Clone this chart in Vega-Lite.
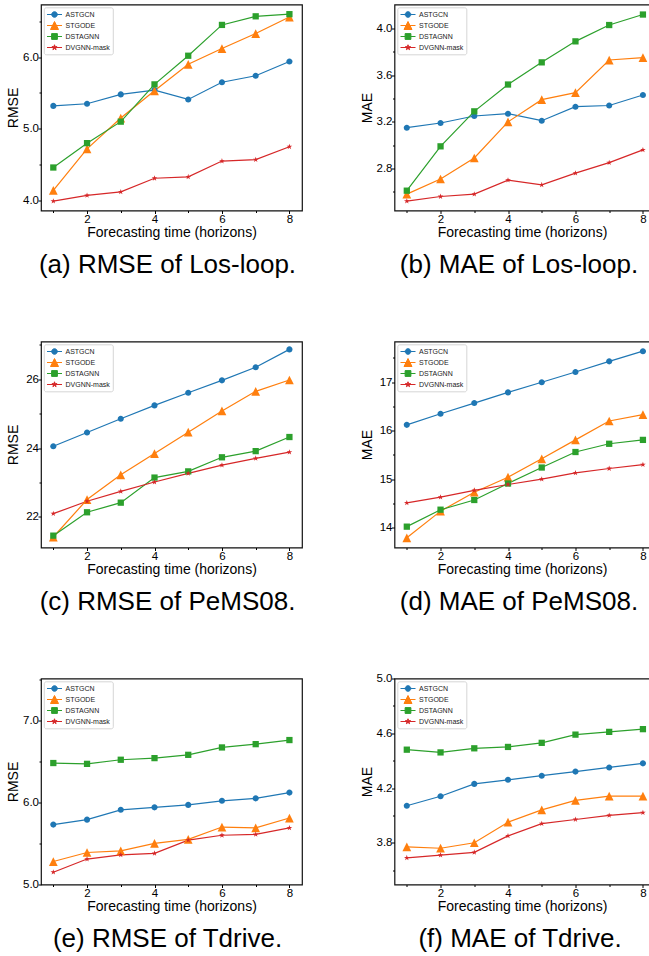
{
  "$schema": "https://vega.github.io/schema/vega-lite/v6.json",
  "padding": {"left": 5, "top": 3.5, "right": 0, "bottom": 0},
  "background": "white",
  "bounds": "flush",
  "columns": 2,
  "spacing": {"row": 131, "column": 92.5},
  "resolve": {"scale": {"color": "independent", "shape": "independent"}, "legend": {"color": "independent", "shape": "independent"}},
  "config": {
    "font": "Liberation Sans",
    "view": {"stroke": "#111111", "strokeWidth": 1.2},
    "axis": {"grid": false, "domain": false, "labelFont": "Liberation Sans", "labelFontSize": 11.5, "labelColor": "black", "titleFont": "Liberation Sans", "titleFontSize": 14, "titleFontWeight": "normal", "titleColor": "black", "tickColor": "black", "tickWidth": 1, "labelOverlap": false, "labelFlush": false},
    "axisX": {"labelPadding": 0, "titlePadding": 0, "minExtent": 15, "maxExtent": 15},
    "axisY": {"labelPadding": -0.5, "titlePadding": 0.5, "minExtent": 20, "maxExtent": 20, "titleFontSize": 14},
    "range": {
      "category": ["#1f77b4", "#ff7f0e", "#2ca02c", "#d62728"],
      "symbol": ["M0.7,0A0.7,0.7 0 1 1 -0.7,0A0.7,0.7 0 1 1 0.7,0Z", "M0,-1L1,1L-1,1Z", "M-0.72,-0.72H0.72V0.72H-0.72Z", "M0,-0.68L0.152,-0.21L0.647,-0.21L0.247,0.081L0.4,0.55L0,0.26L-0.4,0.55L-0.247,0.081L-0.647,-0.21L-0.152,-0.21Z"]
    },
    "point": {"filled": true, "opacity": 1, "size": 76},
    "line": {"strokeWidth": 1.2},
    "legend": {"strokeWidth": 0.8}
  },
  "datasets": {
    "d": [
      {"p": "a", "m": "ASTGCN", "h": 1, "v": 5.32}, {"p": "a", "m": "ASTGCN", "h": 2, "v": 5.35}, {"p": "a", "m": "ASTGCN", "h": 3, "v": 5.48}, {"p": "a", "m": "ASTGCN", "h": 4, "v": 5.54}, {"p": "a", "m": "ASTGCN", "h": 5, "v": 5.41}, {"p": "a", "m": "ASTGCN", "h": 6, "v": 5.65}, {"p": "a", "m": "ASTGCN", "h": 7, "v": 5.74}, {"p": "a", "m": "ASTGCN", "h": 8, "v": 5.94},
      {"p": "a", "m": "STGODE", "h": 1, "v": 4.14}, {"p": "a", "m": "STGODE", "h": 2, "v": 4.72}, {"p": "a", "m": "STGODE", "h": 3, "v": 5.15}, {"p": "a", "m": "STGODE", "h": 4, "v": 5.53}, {"p": "a", "m": "STGODE", "h": 5, "v": 5.90}, {"p": "a", "m": "STGODE", "h": 6, "v": 6.12}, {"p": "a", "m": "STGODE", "h": 7, "v": 6.33}, {"p": "a", "m": "STGODE", "h": 8, "v": 6.56},
      {"p": "a", "m": "DSTAGNN", "h": 1, "v": 4.46}, {"p": "a", "m": "DSTAGNN", "h": 2, "v": 4.80}, {"p": "a", "m": "DSTAGNN", "h": 3, "v": 5.10}, {"p": "a", "m": "DSTAGNN", "h": 4, "v": 5.62}, {"p": "a", "m": "DSTAGNN", "h": 5, "v": 6.02}, {"p": "a", "m": "DSTAGNN", "h": 6, "v": 6.45}, {"p": "a", "m": "DSTAGNN", "h": 7, "v": 6.57}, {"p": "a", "m": "DSTAGNN", "h": 8, "v": 6.60},
      {"p": "a", "m": "DVGNN-mask", "h": 1, "v": 3.99}, {"p": "a", "m": "DVGNN-mask", "h": 2, "v": 4.07}, {"p": "a", "m": "DVGNN-mask", "h": 3, "v": 4.12}, {"p": "a", "m": "DVGNN-mask", "h": 4, "v": 4.31}, {"p": "a", "m": "DVGNN-mask", "h": 5, "v": 4.33}, {"p": "a", "m": "DVGNN-mask", "h": 6, "v": 4.55}, {"p": "a", "m": "DVGNN-mask", "h": 7, "v": 4.57}, {"p": "a", "m": "DVGNN-mask", "h": 8, "v": 4.75},

      {"p": "b", "m": "ASTGCN", "h": 1, "v": 3.15}, {"p": "b", "m": "ASTGCN", "h": 2, "v": 3.19}, {"p": "b", "m": "ASTGCN", "h": 3, "v": 3.25}, {"p": "b", "m": "ASTGCN", "h": 4, "v": 3.27}, {"p": "b", "m": "ASTGCN", "h": 5, "v": 3.21}, {"p": "b", "m": "ASTGCN", "h": 6, "v": 3.33}, {"p": "b", "m": "ASTGCN", "h": 7, "v": 3.34}, {"p": "b", "m": "ASTGCN", "h": 8, "v": 3.43},
      {"p": "b", "m": "STGODE", "h": 1, "v": 2.58}, {"p": "b", "m": "STGODE", "h": 2, "v": 2.71}, {"p": "b", "m": "STGODE", "h": 3, "v": 2.89}, {"p": "b", "m": "STGODE", "h": 4, "v": 3.20}, {"p": "b", "m": "STGODE", "h": 5, "v": 3.39}, {"p": "b", "m": "STGODE", "h": 6, "v": 3.45}, {"p": "b", "m": "STGODE", "h": 7, "v": 3.73}, {"p": "b", "m": "STGODE", "h": 8, "v": 3.75},
      {"p": "b", "m": "DSTAGNN", "h": 1, "v": 2.61}, {"p": "b", "m": "DSTAGNN", "h": 2, "v": 2.99}, {"p": "b", "m": "DSTAGNN", "h": 3, "v": 3.29}, {"p": "b", "m": "DSTAGNN", "h": 4, "v": 3.52}, {"p": "b", "m": "DSTAGNN", "h": 5, "v": 3.71}, {"p": "b", "m": "DSTAGNN", "h": 6, "v": 3.89}, {"p": "b", "m": "DSTAGNN", "h": 7, "v": 4.03}, {"p": "b", "m": "DSTAGNN", "h": 8, "v": 4.12},
      {"p": "b", "m": "DVGNN-mask", "h": 1, "v": 2.52}, {"p": "b", "m": "DVGNN-mask", "h": 2, "v": 2.56}, {"p": "b", "m": "DVGNN-mask", "h": 3, "v": 2.58}, {"p": "b", "m": "DVGNN-mask", "h": 4, "v": 2.70}, {"p": "b", "m": "DVGNN-mask", "h": 5, "v": 2.66}, {"p": "b", "m": "DVGNN-mask", "h": 6, "v": 2.76}, {"p": "b", "m": "DVGNN-mask", "h": 7, "v": 2.85}, {"p": "b", "m": "DVGNN-mask", "h": 8, "v": 2.96},

      {"p": "c", "m": "ASTGCN", "h": 1, "v": 24.05}, {"p": "c", "m": "ASTGCN", "h": 2, "v": 24.45}, {"p": "c", "m": "ASTGCN", "h": 3, "v": 24.85}, {"p": "c", "m": "ASTGCN", "h": 4, "v": 25.24}, {"p": "c", "m": "ASTGCN", "h": 5, "v": 25.61}, {"p": "c", "m": "ASTGCN", "h": 6, "v": 25.97}, {"p": "c", "m": "ASTGCN", "h": 7, "v": 26.35}, {"p": "c", "m": "ASTGCN", "h": 8, "v": 26.87},
      {"p": "c", "m": "STGODE", "h": 1, "v": 21.41}, {"p": "c", "m": "STGODE", "h": 2, "v": 22.50}, {"p": "c", "m": "STGODE", "h": 3, "v": 23.22}, {"p": "c", "m": "STGODE", "h": 4, "v": 23.84}, {"p": "c", "m": "STGODE", "h": 5, "v": 24.46}, {"p": "c", "m": "STGODE", "h": 6, "v": 25.08}, {"p": "c", "m": "STGODE", "h": 7, "v": 25.65}, {"p": "c", "m": "STGODE", "h": 8, "v": 25.98},
      {"p": "c", "m": "DSTAGNN", "h": 1, "v": 21.45}, {"p": "c", "m": "DSTAGNN", "h": 2, "v": 22.13}, {"p": "c", "m": "DSTAGNN", "h": 3, "v": 22.41}, {"p": "c", "m": "DSTAGNN", "h": 4, "v": 23.14}, {"p": "c", "m": "DSTAGNN", "h": 5, "v": 23.32}, {"p": "c", "m": "DSTAGNN", "h": 6, "v": 23.73}, {"p": "c", "m": "DSTAGNN", "h": 7, "v": 23.91}, {"p": "c", "m": "DSTAGNN", "h": 8, "v": 24.32},
      {"p": "c", "m": "DVGNN-mask", "h": 1, "v": 22.09}, {"p": "c", "m": "DVGNN-mask", "h": 2, "v": 22.45}, {"p": "c", "m": "DVGNN-mask", "h": 3, "v": 22.74}, {"p": "c", "m": "DVGNN-mask", "h": 4, "v": 23.01}, {"p": "c", "m": "DVGNN-mask", "h": 5, "v": 23.26}, {"p": "c", "m": "DVGNN-mask", "h": 6, "v": 23.50}, {"p": "c", "m": "DVGNN-mask", "h": 7, "v": 23.70}, {"p": "c", "m": "DVGNN-mask", "h": 8, "v": 23.88},

      {"p": "d", "m": "ASTGCN", "h": 1, "v": 16.12}, {"p": "d", "m": "ASTGCN", "h": 2, "v": 16.35}, {"p": "d", "m": "ASTGCN", "h": 3, "v": 16.57}, {"p": "d", "m": "ASTGCN", "h": 4, "v": 16.79}, {"p": "d", "m": "ASTGCN", "h": 5, "v": 17.00}, {"p": "d", "m": "ASTGCN", "h": 6, "v": 17.21}, {"p": "d", "m": "ASTGCN", "h": 7, "v": 17.43}, {"p": "d", "m": "ASTGCN", "h": 8, "v": 17.64},
      {"p": "d", "m": "STGODE", "h": 1, "v": 13.79}, {"p": "d", "m": "STGODE", "h": 2, "v": 14.34}, {"p": "d", "m": "STGODE", "h": 3, "v": 14.73}, {"p": "d", "m": "STGODE", "h": 4, "v": 15.04}, {"p": "d", "m": "STGODE", "h": 5, "v": 15.42}, {"p": "d", "m": "STGODE", "h": 6, "v": 15.81}, {"p": "d", "m": "STGODE", "h": 7, "v": 16.20}, {"p": "d", "m": "STGODE", "h": 8, "v": 16.33},
      {"p": "d", "m": "DSTAGNN", "h": 1, "v": 14.02}, {"p": "d", "m": "DSTAGNN", "h": 2, "v": 14.37}, {"p": "d", "m": "DSTAGNN", "h": 3, "v": 14.57}, {"p": "d", "m": "DSTAGNN", "h": 4, "v": 14.91}, {"p": "d", "m": "DSTAGNN", "h": 5, "v": 15.24}, {"p": "d", "m": "DSTAGNN", "h": 6, "v": 15.56}, {"p": "d", "m": "DSTAGNN", "h": 7, "v": 15.73}, {"p": "d", "m": "DSTAGNN", "h": 8, "v": 15.81},
      {"p": "d", "m": "DVGNN-mask", "h": 1, "v": 14.51}, {"p": "d", "m": "DVGNN-mask", "h": 2, "v": 14.63}, {"p": "d", "m": "DVGNN-mask", "h": 3, "v": 14.77}, {"p": "d", "m": "DVGNN-mask", "h": 4, "v": 14.89}, {"p": "d", "m": "DVGNN-mask", "h": 5, "v": 15.00}, {"p": "d", "m": "DVGNN-mask", "h": 6, "v": 15.13}, {"p": "d", "m": "DVGNN-mask", "h": 7, "v": 15.22}, {"p": "d", "m": "DVGNN-mask", "h": 8, "v": 15.30},

      {"p": "e", "m": "ASTGCN", "h": 1, "v": 5.73}, {"p": "e", "m": "ASTGCN", "h": 2, "v": 5.79}, {"p": "e", "m": "ASTGCN", "h": 3, "v": 5.91}, {"p": "e", "m": "ASTGCN", "h": 4, "v": 5.94}, {"p": "e", "m": "ASTGCN", "h": 5, "v": 5.97}, {"p": "e", "m": "ASTGCN", "h": 6, "v": 6.02}, {"p": "e", "m": "ASTGCN", "h": 7, "v": 6.05}, {"p": "e", "m": "ASTGCN", "h": 8, "v": 6.12},
      {"p": "e", "m": "STGODE", "h": 1, "v": 5.28}, {"p": "e", "m": "STGODE", "h": 2, "v": 5.39}, {"p": "e", "m": "STGODE", "h": 3, "v": 5.41}, {"p": "e", "m": "STGODE", "h": 4, "v": 5.50}, {"p": "e", "m": "STGODE", "h": 5, "v": 5.55}, {"p": "e", "m": "STGODE", "h": 6, "v": 5.70}, {"p": "e", "m": "STGODE", "h": 7, "v": 5.69}, {"p": "e", "m": "STGODE", "h": 8, "v": 5.81},
      {"p": "e", "m": "DSTAGNN", "h": 1, "v": 6.48}, {"p": "e", "m": "DSTAGNN", "h": 2, "v": 6.47}, {"p": "e", "m": "DSTAGNN", "h": 3, "v": 6.52}, {"p": "e", "m": "DSTAGNN", "h": 4, "v": 6.54}, {"p": "e", "m": "DSTAGNN", "h": 5, "v": 6.58}, {"p": "e", "m": "DSTAGNN", "h": 6, "v": 6.67}, {"p": "e", "m": "DSTAGNN", "h": 7, "v": 6.71}, {"p": "e", "m": "DSTAGNN", "h": 8, "v": 6.76},
      {"p": "e", "m": "DVGNN-mask", "h": 1, "v": 5.15}, {"p": "e", "m": "DVGNN-mask", "h": 2, "v": 5.31}, {"p": "e", "m": "DVGNN-mask", "h": 3, "v": 5.36}, {"p": "e", "m": "DVGNN-mask", "h": 4, "v": 5.38}, {"p": "e", "m": "DVGNN-mask", "h": 5, "v": 5.54}, {"p": "e", "m": "DVGNN-mask", "h": 6, "v": 5.60}, {"p": "e", "m": "DVGNN-mask", "h": 7, "v": 5.61}, {"p": "e", "m": "DVGNN-mask", "h": 8, "v": 5.69},

      {"p": "f", "m": "ASTGCN", "h": 1, "v": 4.07}, {"p": "f", "m": "ASTGCN", "h": 2, "v": 4.14}, {"p": "f", "m": "ASTGCN", "h": 3, "v": 4.23}, {"p": "f", "m": "ASTGCN", "h": 4, "v": 4.26}, {"p": "f", "m": "ASTGCN", "h": 5, "v": 4.29}, {"p": "f", "m": "ASTGCN", "h": 6, "v": 4.32}, {"p": "f", "m": "ASTGCN", "h": 7, "v": 4.35}, {"p": "f", "m": "ASTGCN", "h": 8, "v": 4.38},
      {"p": "f", "m": "STGODE", "h": 1, "v": 3.77}, {"p": "f", "m": "STGODE", "h": 2, "v": 3.76}, {"p": "f", "m": "STGODE", "h": 3, "v": 3.80}, {"p": "f", "m": "STGODE", "h": 4, "v": 3.95}, {"p": "f", "m": "STGODE", "h": 5, "v": 4.04}, {"p": "f", "m": "STGODE", "h": 6, "v": 4.11}, {"p": "f", "m": "STGODE", "h": 7, "v": 4.14}, {"p": "f", "m": "STGODE", "h": 8, "v": 4.14},
      {"p": "f", "m": "DSTAGNN", "h": 1, "v": 4.48}, {"p": "f", "m": "DSTAGNN", "h": 2, "v": 4.46}, {"p": "f", "m": "DSTAGNN", "h": 3, "v": 4.49}, {"p": "f", "m": "DSTAGNN", "h": 4, "v": 4.50}, {"p": "f", "m": "DSTAGNN", "h": 5, "v": 4.53}, {"p": "f", "m": "DSTAGNN", "h": 6, "v": 4.59}, {"p": "f", "m": "DSTAGNN", "h": 7, "v": 4.61}, {"p": "f", "m": "DSTAGNN", "h": 8, "v": 4.63},
      {"p": "f", "m": "DVGNN-mask", "h": 1, "v": 3.69}, {"p": "f", "m": "DVGNN-mask", "h": 2, "v": 3.71}, {"p": "f", "m": "DVGNN-mask", "h": 3, "v": 3.73}, {"p": "f", "m": "DVGNN-mask", "h": 4, "v": 3.85}, {"p": "f", "m": "DVGNN-mask", "h": 5, "v": 3.94}, {"p": "f", "m": "DVGNN-mask", "h": 6, "v": 3.97}, {"p": "f", "m": "DVGNN-mask", "h": 7, "v": 4.00}, {"p": "f", "m": "DVGNN-mask", "h": 8, "v": 4.02}
    ]
  },
  "concat": [
    {
      "width": 261, "height": 206,
      "title": {"text": "(a) RMSE of Los-loop.", "orient": "bottom", "anchor": "middle", "frame": "group", "offset": 12, "dx": -4, "fontSize": 26, "fontWeight": "normal", "font": "Liberation Sans", "color": "black"},
      "data": {"name": "d"},
      "transform": [{"filter": "datum.p == 'a'"}],
      "encoding": {
        "x": {"field": "h", "type": "quantitative", "title": "Forecasting time (horizons)", "scale": {"domain": [0.635, 8.373], "nice": false, "zero": false},
              "axis": {"values": [1, 2, 3, 4, 5, 6, 7, 8], "labelExpr": "datum.value % 2 == 0 ? datum.label : ''", "tickSize": {"condition": {"test": "datum.value % 2 == 0", "value": 3}, "value": 2}}},
        "y": {"field": "v", "type": "quantitative", "title": "RMSE", "scale": {"domain": [3.86, 6.735], "nice": false, "zero": false},
              "axis": {"values": [4, 4.5, 5, 5.5, 6, 6.5], "labelExpr": "datum.value % 1 == 0 ? format(datum.value, '.1f') : ''", "tickSize": {"condition": {"test": "datum.value % 1 == 0", "value": 3}, "value": 2}}},
        "color": {"field": "m", "type": "nominal", "sort": ["ASTGCN", "STGODE", "DSTAGNN", "DVGNN-mask"],
          "legend": {"title": null, "orient": "top-left", "offset": 3, "padding": 2.5, "rowPadding": -5, "gridAlign": "all", "symbolSize": 64, "symbolOffset": 3.5, "labelOffset": 6.5, "labelFont": "Liberation Sans", "labelFontSize": 7, "labelColor": "#222222", "fillColor": "rgba(255,255,255,0.85)", "strokeColor": "#cccccc", "cornerRadius": 2,
            "encode": {"symbols": {"update": {
              "shape": {"signal": "datum.value == 'ASTGCN' ? 'M0.7,0A0.7,0.7 0 1 1 -0.7,0A0.7,0.7 0 1 1 0.7,0Z M-1.875,0H1.875' : datum.value == 'STGODE' ? 'M0,-1L1,1L-1,1Z M-1.875,0H1.875' : datum.value == 'DSTAGNN' ? 'M-0.72,-0.72H0.72V0.72H-0.72Z M-1.875,0H1.875' : 'M0,-0.68L0.152,-0.21L0.647,-0.21L0.247,0.081L0.4,0.55L0,0.26L-0.4,0.55L-0.247,0.081L-0.647,-0.21L-0.152,-0.21Z M-1.875,0H1.875'"},
              "fill": {"signal": "datum.value == 'ASTGCN' ? '#1f77b4' : datum.value == 'STGODE' ? '#ff7f0e' : datum.value == 'DSTAGNN' ? '#2ca02c' : '#d62728'"},
              "stroke": {"signal": "datum.value == 'ASTGCN' ? '#1f77b4' : datum.value == 'STGODE' ? '#ff7f0e' : datum.value == 'DSTAGNN' ? '#2ca02c' : '#d62728'"},
              "strokeWidth": {"value": 1}, "size": {"value": 64}, "opacity": {"value": 1}}}}}}
      },
      "layer": [
        {"mark": {"type": "line"}},
        {"mark": {"type": "point"},
         "encoding": {"shape": {"field": "m", "type": "nominal", "sort": ["ASTGCN", "STGODE", "DSTAGNN", "DVGNN-mask"], "legend": null}}}
      ]
    },
    {
      "width": 255, "height": 206,
      "title": {"text": "(b) MAE of Los-loop.", "orient": "bottom", "anchor": "middle", "frame": "group", "offset": 12, "dx": -3, "fontSize": 26, "fontWeight": "normal", "font": "Liberation Sans", "color": "black"},
      "data": {"name": "d"},
      "transform": [{"filter": "datum.p == 'b'"}],
      "encoding": {
        "x": {"field": "h", "type": "quantitative", "title": "Forecasting time (horizons)", "scale": {"domain": [0.635, 8.195], "nice": false, "zero": false},
              "axis": {"values": [1, 2, 3, 4, 5, 6, 7, 8], "labelExpr": "datum.value % 2 == 0 ? datum.label : ''", "tickSize": {"condition": {"test": "datum.value % 2 == 0", "value": 3}, "value": 2}}},
        "y": {"field": "v", "type": "quantitative", "title": "MAE", "scale": {"domain": [2.44, 4.206], "nice": false, "zero": false},
              "axis": {"values": [2.6, 2.8, 3.0, 3.2, 3.4, 3.6, 3.8, 4.0], "labelExpr": "indexof([2.8, 3.2, 3.6, 4], datum.value) >= 0 ? format(datum.value, '.1f') : ''", "tickSize": {"condition": {"test": "indexof([2.8, 3.2, 3.6, 4], datum.value) >= 0", "value": 3}, "value": 2}}},
        "color": {"field": "m", "type": "nominal", "sort": ["ASTGCN", "STGODE", "DSTAGNN", "DVGNN-mask"],
          "legend": {"title": null, "orient": "top-left", "offset": 3, "padding": 2.5, "rowPadding": -5, "gridAlign": "all", "symbolSize": 64, "symbolOffset": 3.5, "labelOffset": 6.5, "labelFont": "Liberation Sans", "labelFontSize": 7, "labelColor": "#222222", "fillColor": "rgba(255,255,255,0.85)", "strokeColor": "#cccccc", "cornerRadius": 2,
            "encode": {"symbols": {"update": {
              "shape": {"signal": "datum.value == 'ASTGCN' ? 'M0.7,0A0.7,0.7 0 1 1 -0.7,0A0.7,0.7 0 1 1 0.7,0Z M-1.875,0H1.875' : datum.value == 'STGODE' ? 'M0,-1L1,1L-1,1Z M-1.875,0H1.875' : datum.value == 'DSTAGNN' ? 'M-0.72,-0.72H0.72V0.72H-0.72Z M-1.875,0H1.875' : 'M0,-0.68L0.152,-0.21L0.647,-0.21L0.247,0.081L0.4,0.55L0,0.26L-0.4,0.55L-0.247,0.081L-0.647,-0.21L-0.152,-0.21Z M-1.875,0H1.875'"},
              "fill": {"signal": "datum.value == 'ASTGCN' ? '#1f77b4' : datum.value == 'STGODE' ? '#ff7f0e' : datum.value == 'DSTAGNN' ? '#2ca02c' : '#d62728'"},
              "stroke": {"signal": "datum.value == 'ASTGCN' ? '#1f77b4' : datum.value == 'STGODE' ? '#ff7f0e' : datum.value == 'DSTAGNN' ? '#2ca02c' : '#d62728'"},
              "strokeWidth": {"value": 1}, "size": {"value": 64}, "opacity": {"value": 1}}}}}}
      },
      "layer": [
        {"mark": {"type": "line"}},
        {"mark": {"type": "point"},
         "encoding": {"shape": {"field": "m", "type": "nominal", "sort": ["ASTGCN", "STGODE", "DSTAGNN", "DVGNN-mask"], "legend": null}}}
      ]
    },
    {
      "width": 261, "height": 206,
      "title": {"text": "(c) RMSE of PeMS08.", "orient": "bottom", "anchor": "middle", "frame": "group", "offset": 12, "dx": -4, "fontSize": 26, "fontWeight": "normal", "font": "Liberation Sans", "color": "black"},
      "data": {"name": "d"},
      "transform": [{"filter": "datum.p == 'c'"}],
      "encoding": {
        "x": {"field": "h", "type": "quantitative", "title": "Forecasting time (horizons)", "scale": {"domain": [0.635, 8.373], "nice": false, "zero": false},
              "axis": {"values": [1, 2, 3, 4, 5, 6, 7, 8], "labelExpr": "datum.value % 2 == 0 ? datum.label : ''", "tickSize": {"condition": {"test": "datum.value % 2 == 0", "value": 3}, "value": 2}}},
        "y": {"field": "v", "type": "quantitative", "title": "RMSE", "scale": {"domain": [21.105, 27.1], "nice": false, "zero": false},
              "axis": {"values": [22, 23, 24, 25, 26, 27], "labelExpr": "datum.value % 2 == 0 ? format(datum.value, 'd') : ''", "tickSize": {"condition": {"test": "datum.value % 2 == 0", "value": 3}, "value": 2}}},
        "color": {"field": "m", "type": "nominal", "sort": ["ASTGCN", "STGODE", "DSTAGNN", "DVGNN-mask"],
          "legend": {"title": null, "orient": "top-left", "offset": 3, "padding": 2.5, "rowPadding": -5, "gridAlign": "all", "symbolSize": 64, "symbolOffset": 3.5, "labelOffset": 6.5, "labelFont": "Liberation Sans", "labelFontSize": 7, "labelColor": "#222222", "fillColor": "rgba(255,255,255,0.85)", "strokeColor": "#cccccc", "cornerRadius": 2,
            "encode": {"symbols": {"update": {
              "shape": {"signal": "datum.value == 'ASTGCN' ? 'M0.7,0A0.7,0.7 0 1 1 -0.7,0A0.7,0.7 0 1 1 0.7,0Z M-1.875,0H1.875' : datum.value == 'STGODE' ? 'M0,-1L1,1L-1,1Z M-1.875,0H1.875' : datum.value == 'DSTAGNN' ? 'M-0.72,-0.72H0.72V0.72H-0.72Z M-1.875,0H1.875' : 'M0,-0.68L0.152,-0.21L0.647,-0.21L0.247,0.081L0.4,0.55L0,0.26L-0.4,0.55L-0.247,0.081L-0.647,-0.21L-0.152,-0.21Z M-1.875,0H1.875'"},
              "fill": {"signal": "datum.value == 'ASTGCN' ? '#1f77b4' : datum.value == 'STGODE' ? '#ff7f0e' : datum.value == 'DSTAGNN' ? '#2ca02c' : '#d62728'"},
              "stroke": {"signal": "datum.value == 'ASTGCN' ? '#1f77b4' : datum.value == 'STGODE' ? '#ff7f0e' : datum.value == 'DSTAGNN' ? '#2ca02c' : '#d62728'"},
              "strokeWidth": {"value": 1}, "size": {"value": 64}, "opacity": {"value": 1}}}}}}
      },
      "layer": [
        {"mark": {"type": "line"}},
        {"mark": {"type": "point"},
         "encoding": {"shape": {"field": "m", "type": "nominal", "sort": ["ASTGCN", "STGODE", "DSTAGNN", "DVGNN-mask"], "legend": null}}}
      ]
    },
    {
      "width": 255, "height": 206,
      "title": {"text": "(d) MAE of PeMS08.", "orient": "bottom", "anchor": "middle", "frame": "group", "offset": 12, "dx": -3, "fontSize": 26, "fontWeight": "normal", "font": "Liberation Sans", "color": "black"},
      "data": {"name": "d"},
      "transform": [{"filter": "datum.p == 'd'"}],
      "encoding": {
        "x": {"field": "h", "type": "quantitative", "title": "Forecasting time (horizons)", "scale": {"domain": [0.635, 8.195], "nice": false, "zero": false},
              "axis": {"values": [1, 2, 3, 4, 5, 6, 7, 8], "labelExpr": "datum.value % 2 == 0 ? datum.label : ''", "tickSize": {"condition": {"test": "datum.value % 2 == 0", "value": 3}, "value": 2}}},
        "y": {"field": "v", "type": "quantitative", "title": "MAE", "scale": {"domain": [13.59, 17.84], "nice": false, "zero": false},
              "axis": {"values": [14, 14.5, 15, 15.5, 16, 16.5, 17, 17.5], "labelExpr": "datum.value % 1 == 0 ? format(datum.value, 'd') : ''", "tickSize": {"condition": {"test": "datum.value % 1 == 0", "value": 3}, "value": 2}}},
        "color": {"field": "m", "type": "nominal", "sort": ["ASTGCN", "STGODE", "DSTAGNN", "DVGNN-mask"],
          "legend": {"title": null, "orient": "top-left", "offset": 3, "padding": 2.5, "rowPadding": -5, "gridAlign": "all", "symbolSize": 64, "symbolOffset": 3.5, "labelOffset": 6.5, "labelFont": "Liberation Sans", "labelFontSize": 7, "labelColor": "#222222", "fillColor": "rgba(255,255,255,0.85)", "strokeColor": "#cccccc", "cornerRadius": 2,
            "encode": {"symbols": {"update": {
              "shape": {"signal": "datum.value == 'ASTGCN' ? 'M0.7,0A0.7,0.7 0 1 1 -0.7,0A0.7,0.7 0 1 1 0.7,0Z M-1.875,0H1.875' : datum.value == 'STGODE' ? 'M0,-1L1,1L-1,1Z M-1.875,0H1.875' : datum.value == 'DSTAGNN' ? 'M-0.72,-0.72H0.72V0.72H-0.72Z M-1.875,0H1.875' : 'M0,-0.68L0.152,-0.21L0.647,-0.21L0.247,0.081L0.4,0.55L0,0.26L-0.4,0.55L-0.247,0.081L-0.647,-0.21L-0.152,-0.21Z M-1.875,0H1.875'"},
              "fill": {"signal": "datum.value == 'ASTGCN' ? '#1f77b4' : datum.value == 'STGODE' ? '#ff7f0e' : datum.value == 'DSTAGNN' ? '#2ca02c' : '#d62728'"},
              "stroke": {"signal": "datum.value == 'ASTGCN' ? '#1f77b4' : datum.value == 'STGODE' ? '#ff7f0e' : datum.value == 'DSTAGNN' ? '#2ca02c' : '#d62728'"},
              "strokeWidth": {"value": 1}, "size": {"value": 64}, "opacity": {"value": 1}}}}}}
      },
      "layer": [
        {"mark": {"type": "line"}},
        {"mark": {"type": "point"},
         "encoding": {"shape": {"field": "m", "type": "nominal", "sort": ["ASTGCN", "STGODE", "DSTAGNN", "DVGNN-mask"], "legend": null}}}
      ]
    },
    {
      "width": 261, "height": 206,
      "title": {"text": "(e) RMSE of Tdrive.", "orient": "bottom", "anchor": "middle", "frame": "group", "offset": 12, "dx": -4, "fontSize": 26, "fontWeight": "normal", "font": "Liberation Sans", "color": "black"},
      "data": {"name": "d"},
      "transform": [{"filter": "datum.p == 'e'"}],
      "encoding": {
        "x": {"field": "h", "type": "quantitative", "title": "Forecasting time (horizons)", "scale": {"domain": [0.635, 8.373], "nice": false, "zero": false},
              "axis": {"values": [1, 2, 3, 4, 5, 6, 7, 8], "labelExpr": "datum.value % 2 == 0 ? datum.label : ''", "tickSize": {"condition": {"test": "datum.value % 2 == 0", "value": 3}, "value": 2}}},
        "y": {"field": "v", "type": "quantitative", "title": "RMSE", "scale": {"domain": [5.0, 7.51], "nice": false, "zero": false},
              "axis": {"values": [5, 5.5, 6, 6.5, 7, 7.5], "labelExpr": "datum.value % 1 == 0 ? format(datum.value, '.1f') : ''", "tickSize": {"condition": {"test": "datum.value % 1 == 0", "value": 3}, "value": 2}}},
        "color": {"field": "m", "type": "nominal", "sort": ["ASTGCN", "STGODE", "DSTAGNN", "DVGNN-mask"],
          "legend": {"title": null, "orient": "top-left", "offset": 3, "padding": 2.5, "rowPadding": -5, "gridAlign": "all", "symbolSize": 64, "symbolOffset": 3.5, "labelOffset": 6.5, "labelFont": "Liberation Sans", "labelFontSize": 7, "labelColor": "#222222", "fillColor": "rgba(255,255,255,0.85)", "strokeColor": "#cccccc", "cornerRadius": 2,
            "encode": {"symbols": {"update": {
              "shape": {"signal": "datum.value == 'ASTGCN' ? 'M0.7,0A0.7,0.7 0 1 1 -0.7,0A0.7,0.7 0 1 1 0.7,0Z M-1.875,0H1.875' : datum.value == 'STGODE' ? 'M0,-1L1,1L-1,1Z M-1.875,0H1.875' : datum.value == 'DSTAGNN' ? 'M-0.72,-0.72H0.72V0.72H-0.72Z M-1.875,0H1.875' : 'M0,-0.68L0.152,-0.21L0.647,-0.21L0.247,0.081L0.4,0.55L0,0.26L-0.4,0.55L-0.247,0.081L-0.647,-0.21L-0.152,-0.21Z M-1.875,0H1.875'"},
              "fill": {"signal": "datum.value == 'ASTGCN' ? '#1f77b4' : datum.value == 'STGODE' ? '#ff7f0e' : datum.value == 'DSTAGNN' ? '#2ca02c' : '#d62728'"},
              "stroke": {"signal": "datum.value == 'ASTGCN' ? '#1f77b4' : datum.value == 'STGODE' ? '#ff7f0e' : datum.value == 'DSTAGNN' ? '#2ca02c' : '#d62728'"},
              "strokeWidth": {"value": 1}, "size": {"value": 64}, "opacity": {"value": 1}}}}}}
      },
      "layer": [
        {"mark": {"type": "line"}},
        {"mark": {"type": "point"},
         "encoding": {"shape": {"field": "m", "type": "nominal", "sort": ["ASTGCN", "STGODE", "DSTAGNN", "DVGNN-mask"], "legend": null}}}
      ]
    },
    {
      "width": 255, "height": 206,
      "title": {"text": "(f) MAE of Tdrive.", "orient": "bottom", "anchor": "middle", "frame": "group", "offset": 12, "dx": -2, "fontSize": 26, "fontWeight": "normal", "font": "Liberation Sans", "color": "black"},
      "data": {"name": "d"},
      "transform": [{"filter": "datum.p == 'f'"}],
      "encoding": {
        "x": {"field": "h", "type": "quantitative", "title": "Forecasting time (horizons)", "scale": {"domain": [0.635, 8.195], "nice": false, "zero": false},
              "axis": {"values": [1, 2, 3, 4, 5, 6, 7, 8], "labelExpr": "datum.value % 2 == 0 ? datum.label : ''", "tickSize": {"condition": {"test": "datum.value % 2 == 0", "value": 3}, "value": 2}}},
        "y": {"field": "v", "type": "quantitative", "title": "MAE", "scale": {"domain": [3.495, 5.0], "nice": false, "zero": false},
              "axis": {"values": [3.6, 3.8, 4.0, 4.2, 4.4, 4.6, 4.8, 5.0], "labelExpr": "indexof([3.8, 4.2, 4.6, 5], datum.value) >= 0 ? format(datum.value, '.1f') : ''", "tickSize": {"condition": {"test": "indexof([3.8, 4.2, 4.6, 5], datum.value) >= 0", "value": 3}, "value": 2}}},
        "color": {"field": "m", "type": "nominal", "sort": ["ASTGCN", "STGODE", "DSTAGNN", "DVGNN-mask"],
          "legend": {"title": null, "orient": "top-left", "offset": 3, "padding": 2.5, "rowPadding": -5, "gridAlign": "all", "symbolSize": 64, "symbolOffset": 3.5, "labelOffset": 6.5, "labelFont": "Liberation Sans", "labelFontSize": 7, "labelColor": "#222222", "fillColor": "rgba(255,255,255,0.85)", "strokeColor": "#cccccc", "cornerRadius": 2,
            "encode": {"symbols": {"update": {
              "shape": {"signal": "datum.value == 'ASTGCN' ? 'M0.7,0A0.7,0.7 0 1 1 -0.7,0A0.7,0.7 0 1 1 0.7,0Z M-1.875,0H1.875' : datum.value == 'STGODE' ? 'M0,-1L1,1L-1,1Z M-1.875,0H1.875' : datum.value == 'DSTAGNN' ? 'M-0.72,-0.72H0.72V0.72H-0.72Z M-1.875,0H1.875' : 'M0,-0.68L0.152,-0.21L0.647,-0.21L0.247,0.081L0.4,0.55L0,0.26L-0.4,0.55L-0.247,0.081L-0.647,-0.21L-0.152,-0.21Z M-1.875,0H1.875'"},
              "fill": {"signal": "datum.value == 'ASTGCN' ? '#1f77b4' : datum.value == 'STGODE' ? '#ff7f0e' : datum.value == 'DSTAGNN' ? '#2ca02c' : '#d62728'"},
              "stroke": {"signal": "datum.value == 'ASTGCN' ? '#1f77b4' : datum.value == 'STGODE' ? '#ff7f0e' : datum.value == 'DSTAGNN' ? '#2ca02c' : '#d62728'"},
              "strokeWidth": {"value": 1}, "size": {"value": 64}, "opacity": {"value": 1}}}}}}
      },
      "layer": [
        {"mark": {"type": "line"}},
        {"mark": {"type": "point"},
         "encoding": {"shape": {"field": "m", "type": "nominal", "sort": ["ASTGCN", "STGODE", "DSTAGNN", "DVGNN-mask"], "legend": null}}}
      ]
    }
  ]
}
